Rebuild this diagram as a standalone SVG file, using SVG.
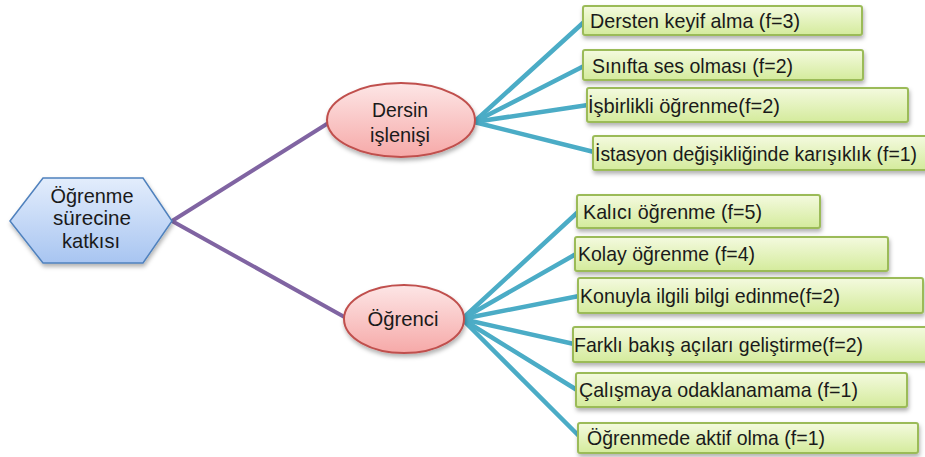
<svg xmlns="http://www.w3.org/2000/svg" width="925" height="457" viewBox="0 0 925 457">
<defs>
<linearGradient id="gHex" x1="0" y1="0" x2="0" y2="1"><stop offset="0" stop-color="#e3edfc"/><stop offset="1" stop-color="#a8c5f1"/></linearGradient>
<linearGradient id="gEll" x1="0" y1="0" x2="0" y2="1"><stop offset="0" stop-color="#fde6e6"/><stop offset="1" stop-color="#f6a9a8"/></linearGradient>
<linearGradient id="gBox" x1="0" y1="0" x2="0" y2="1"><stop offset="0" stop-color="#f4fadf"/><stop offset="1" stop-color="#d4eb9c"/></linearGradient>
<filter id="sh" x="-10%" y="-20%" width="125%" height="160%"><feDropShadow dx="1" dy="3" stdDeviation="2" flood-color="#000" flood-opacity="0.3"/></filter>
<style>
.hex{fill:url(#gHex);stroke:#4f81bd;stroke-width:1.5;filter:url(#sh)}
.ell{fill:url(#gEll);stroke:#c0504d;stroke-width:2;filter:url(#sh)}
.box{fill:url(#gBox);stroke:#9bbb59;stroke-width:2;filter:url(#sh)}
.t{font-family:"Liberation Sans",Arial,sans-serif;font-size:21px;fill:#1a1a1a}
.c{text-anchor:middle}
.p{stroke:#8064a2;stroke-width:4;fill:none;stroke-linecap:round}
.b{stroke:#4bacc6;stroke-width:4.5;fill:none;stroke-linecap:round}
</style>
</defs>
<g id="connectors">
<line class="p" x1="172" y1="221" x2="330" y2="122"/>
<line class="p" x1="172" y1="221" x2="348" y2="319"/>
<line class="b" x1="474" y1="122" x2="584" y2="22"/>
<line class="b" x1="474" y1="122" x2="584" y2="66"/>
<line class="b" x1="474" y1="122" x2="588" y2="105"/>
<line class="b" x1="474" y1="122" x2="594" y2="152"/>
<line class="b" x1="462" y1="319" x2="578" y2="212"/>
<line class="b" x1="462" y1="319" x2="576" y2="254"/>
<line class="b" x1="462" y1="319" x2="579" y2="296"/>
<line class="b" x1="462" y1="319" x2="574" y2="344"/>
<line class="b" x1="462" y1="319" x2="577" y2="390"/>
<line class="b" x1="462" y1="319" x2="579" y2="436"/>
</g>
<g id="root">
<polygon class="hex" points="10,221 43,178 143,178 172,221 143,263 43,263"/>
<text class="t c" x="92" y="203" textLength="83" lengthAdjust="spacingAndGlyphs">Öğrenme</text>
<text class="t c" x="92" y="225" textLength="78" lengthAdjust="spacingAndGlyphs">sürecine</text>
<text class="t c" x="91" y="248" textLength="58" lengthAdjust="spacingAndGlyphs">katkısı</text>
</g>
<g id="dersin">
<ellipse class="ell" cx="401" cy="120" rx="74" ry="37"/>
<text class="t c" x="400" y="117" textLength="56" lengthAdjust="spacingAndGlyphs">Dersin</text>
<text class="t c" x="400" y="142" textLength="60" lengthAdjust="spacingAndGlyphs">işlenişi</text>
</g>
<g id="ogrenci">
<ellipse class="ell" cx="404" cy="319" rx="60" ry="34"/>
<text class="t c" x="403" y="326" textLength="71" lengthAdjust="spacingAndGlyphs">Öğrenci</text>
</g>
<g id="n1"><rect class="box" x="583" y="6" width="279" height="29" rx="2"/><text class="t" x="590" y="28" textLength="210" lengthAdjust="spacingAndGlyphs">Dersten keyif alma (f=3)</text></g>
<g id="n2"><rect class="box" x="583" y="50" width="280" height="30" rx="2"/><text class="t" x="592" y="73" textLength="201" lengthAdjust="spacingAndGlyphs">Sınıfta ses olması (f=2)</text></g>
<g id="n3"><rect class="box" x="587" y="88" width="321" height="34" rx="2"/><text class="t" x="588" y="113" textLength="192" lengthAdjust="spacingAndGlyphs">İşbirlikli öğrenme(f=2)</text></g>
<g id="n4"><rect class="box" x="593" y="136" width="340" height="34" rx="2"/><text class="t" x="595" y="161" style="font-size:19.5px" textLength="322" lengthAdjust="spacingAndGlyphs">İstasyon değişikliğinde karışıklık (f=1)</text></g>
<g id="n5"><rect class="box" x="577" y="195" width="243" height="33" rx="2"/><text class="t" x="583" y="219" textLength="179" lengthAdjust="spacingAndGlyphs">Kalıcı öğrenme (f=5)</text></g>
<g id="n6"><rect class="box" x="575" y="237" width="313" height="34" rx="2"/><text class="t" x="578" y="261" textLength="177" lengthAdjust="spacingAndGlyphs">Kolay öğrenme (f=4)</text></g>
<g id="n7"><rect class="box" x="578" y="278" width="345" height="35" rx="2"/><text class="t" x="580" y="303" textLength="260" lengthAdjust="spacingAndGlyphs">Konuyla ilgili bilgi edinme(f=2)</text></g>
<g id="n8"><rect class="box" x="573" y="327" width="360" height="35" rx="2"/><text class="t" x="574" y="352" textLength="289" lengthAdjust="spacingAndGlyphs">Farklı bakış açıları geliştirme(f=2)</text></g>
<g id="n9"><rect class="box" x="576" y="373" width="331" height="34" rx="2"/><text class="t" x="579" y="397" textLength="279" lengthAdjust="spacingAndGlyphs">Çalışmaya odaklanamama (f=1)</text></g>
<g id="n10"><rect class="box" x="578" y="423" width="340" height="30" rx="2"/><text class="t" x="587" y="445" textLength="238" lengthAdjust="spacingAndGlyphs">Öğrenmede aktif olma (f=1)</text></g>
</svg>
